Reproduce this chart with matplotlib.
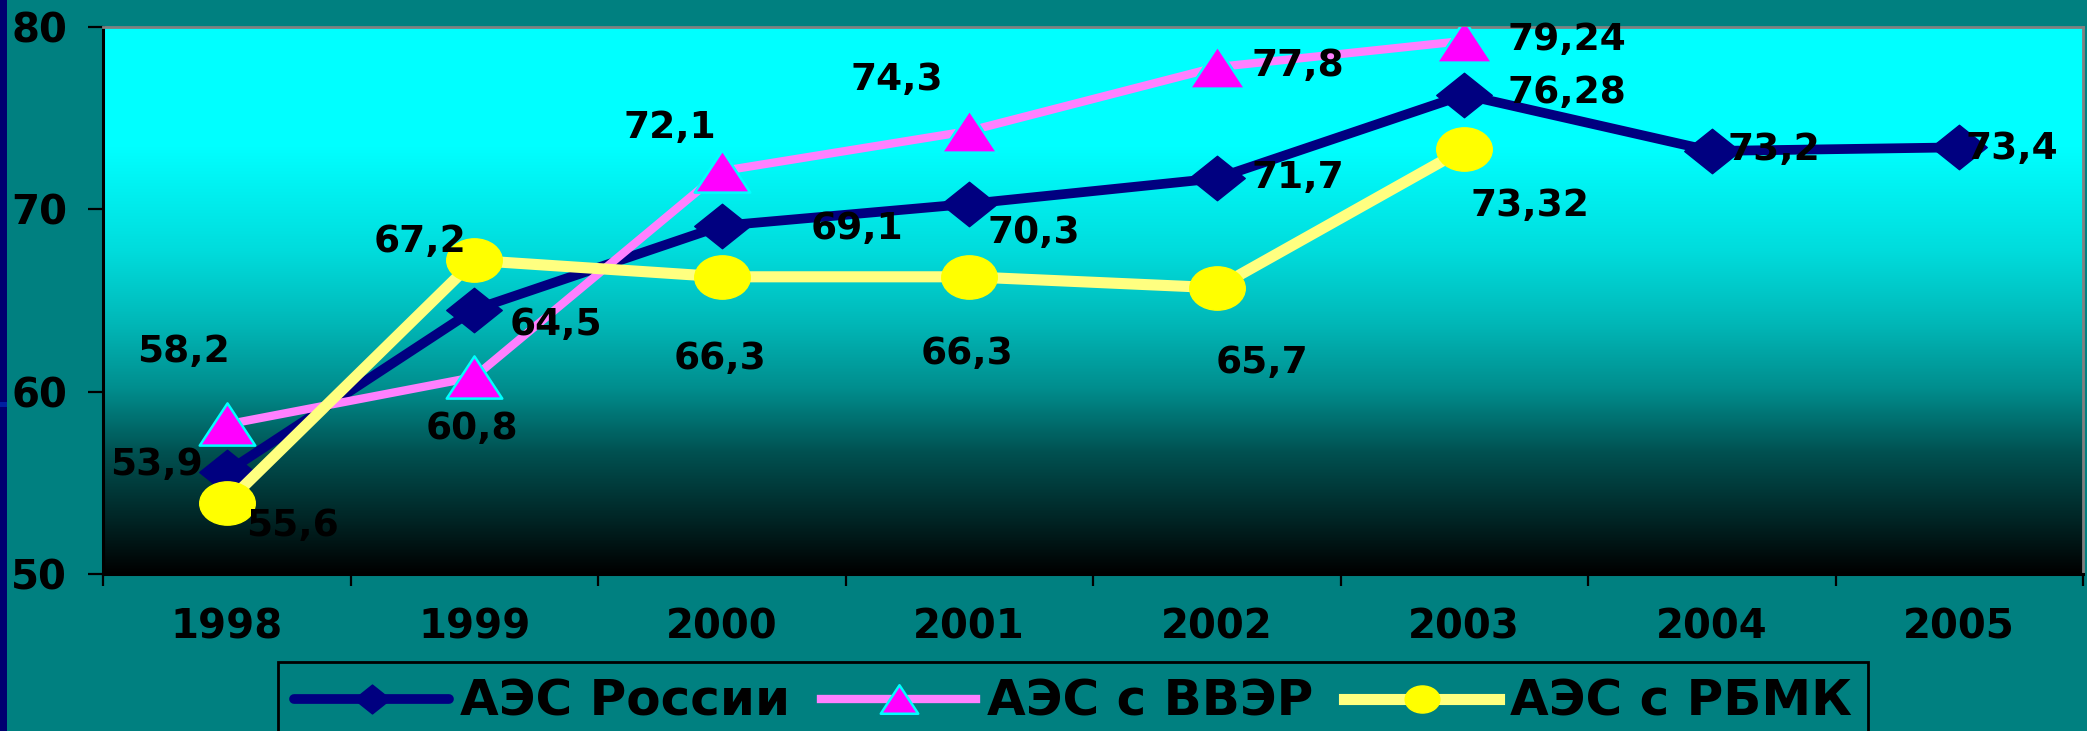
import numpy as np
import matplotlib.pyplot as plt
from matplotlib.colors import LinearSegmentedColormap
from matplotlib.lines import Line2D
from matplotlib.path import Path
from matplotlib.patches import Rectangle
from matplotlib.transforms import Affine2D

plt.rcParams['font.family'] = ['DejaVu Sans']
plt.rcParams['font.weight'] = 'bold'

# data
years = ['1998', '1999', '2000', '2001', '2002', '2003', '2004', '2005']
russia = [55.6, 64.5, 69.1, 70.3, 71.7, 76.28, 73.2, 73.4]
vver = [58.2, 60.8, 72.1, 74.3, 77.8, 79.24]
rbmk = [53.9, 67.2, 66.3, 66.3, 65.7, 73.32]
series_names = ['АЭС России', 'АЭС с ВВЭР', 'АЭС с РБМК']

# label offsets in pixels from each point
russia_off = [(66, -54), (82, -15), (135, -3), (65, -29), (81, 0), (103, 2), (62, 1), (53, -2)]
vver_off = [(-43, 72), (-2, -52), (-52, 43), (-72, 51), (81, 1), (103, 1)]
rbmk_off = [(-70, 38), (-54, 18), (-2, -82), (-2, -77), (45, -75), (66, -57)]

BG = '#008080'
NAVY = '#000080'

# marker shapes
diamond = Path([(-1, 0), (0, 0.8), (1, 0), (0, -0.8), (-1, 0)],
               [Path.MOVETO, Path.LINETO, Path.LINETO, Path.LINETO, Path.CLOSEPOLY])
triangle = Path([(-1, -0.76), (1, -0.76), (0, 0.76), (-1, -0.76)],
                [Path.MOVETO, Path.LINETO, Path.LINETO, Path.CLOSEPOLY])
ellipse = Path.unit_circle().transformed(Affine2D().scale(1, 0.78))

fig = plt.figure(figsize=(20.87, 7.31), dpi=100, facecolor=BG)
ax = fig.add_axes([103 / 2087, 157 / 731, 1980 / 2087, 547 / 731])

# cyan-to-black background of the plot area
grad = LinearSegmentedColormap.from_list('bg', [
    (0.0, '#00ffff'), (0.22, '#00ffff'), (0.41, '#00dcdc'), (0.54, '#00b8b8'),
    (0.66, '#008e8e'), (0.78, '#005050'), (0.90, '#002525'), (1.0, '#000000')],
    N=1024)
ax.imshow(np.linspace(0, 1, 1024).reshape(-1, 1), cmap=grad, aspect='auto',
          extent=[0, 1, 0, 1], transform=ax.transAxes, zorder=0,
          interpolation='bilinear')

x = np.arange(len(years))
ax.plot(x, russia, color=NAVY, lw=7, marker=diamond, ms=40,
        mfc=NAVY, mec=NAVY, zorder=3)
ax.plot(x[:len(vver)], vver, color='#ff80ff', lw=6, marker=triangle, ms=40,
        mfc='#ff00ff', mec='#00ffff', mew=1.8, zorder=4)
ax.plot(x[:len(rbmk)], rbmk, color='#ffff80', lw=8, marker=ellipse, ms=40,
        mfc='#ffff00', mec='#ffff00', zorder=5)

for vals, offs in [(russia, russia_off), (vver, vver_off), (rbmk, rbmk_off)]:
    for i, (v, off) in enumerate(zip(vals, offs)):
        ax.annotate(f'{v:g}'.replace('.', ','), (i, v), xytext=off,
                    textcoords='offset pixels', ha='center', va='center',
                    fontsize=27, fontweight='bold', color='black', zorder=6)

ax.set_xlim(-0.5, len(years) - 0.5)
ax.set_ylim(50, 80)
ax.set_yticks([50, 60, 70, 80])
ax.set_xticks(np.arange(-0.5, len(years)), labels=[])
ax.set_xticks(x, labels=years, minor=True)
ax.tick_params(axis='y', length=10.8, width=1.6, pad=15, labelsize=29)
ax.tick_params(axis='x', which='major', length=8.6, width=1.6)
ax.tick_params(axis='x', which='minor', length=0, pad=24, labelsize=29)
for lab in ax.get_yticklabels() + ax.get_xticklabels(minor=True):
    lab.set_fontweight('bold')

for s in ['left', 'bottom']:
    ax.spines[s].set_linewidth(2.2)
    ax.spines[s].set_color('black')
for s in ['top', 'right']:
    ax.spines[s].set_linewidth(2)
    ax.spines[s].set_color('#808080')

handles = [
    Line2D([], [], color=NAVY, lw=7, marker=diamond, ms=26, mfc=NAVY, mec=NAVY,
           solid_capstyle='round'),
    Line2D([], [], color='#ff80ff', lw=6, marker=triangle, ms=27,
           mfc='#ff00ff', mec='#00ffff', mew=1.8),
    Line2D([], [], color='#ffff80', lw=8, marker=ellipse, ms=25,
           mfc='#ffff00', mec='#ffff00'),
]
leg = fig.legend(handles, series_names, loc='upper left',
                 bbox_to_anchor=(278 / 2087, 69 / 731), ncol=3,
                 prop={'size': 36, 'weight': 'bold'}, handlelength=3.1,
                 handletextpad=0.22, columnspacing=0.62, borderpad=0.32,
                 borderaxespad=0, fancybox=False, framealpha=1,
                 facecolor=BG, edgecolor='black')
leg.get_frame().set_linewidth(2)

# navy strip on the left edge
fig.patches.append(Rectangle((0, 0), 7 / 2087, 1, transform=fig.transFigure,
                             facecolor='#000070', edgecolor='none'))
fig.patches.append(Rectangle((0, 1 - 407 / 731), 7 / 2087, 5 / 731,
                             transform=fig.transFigure,
                             facecolor='#0020a0', edgecolor='none'))

fig.savefig('out.png', dpi=100, facecolor=BG)
